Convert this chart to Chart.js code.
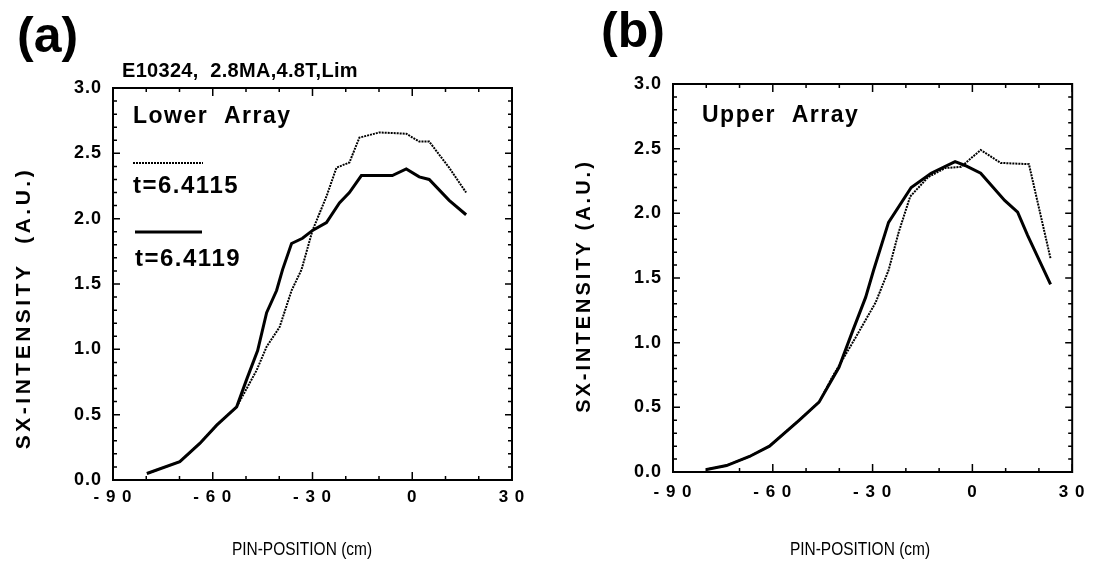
<!DOCTYPE html>
<html>
<head>
<meta charset="utf-8">
<script src="https://cdn.jsdelivr.net/npm/chart.js@4.4.1/dist/chart.umd.min.js"></script>
<style>
body { margin: 0; background: #fff; }
canvas { position: absolute; top: 0; }
#chartA { left: 0; }
#chartB { left: 547px; }
</style>
</head>
<body>
<canvas id="chartA" width="547" height="566"></canvas>
<canvas id="chartB" width="547" height="566"></canvas>
<script>
// (a) lower array, shot E10324
const aEarlyX = [-79.8, -69.9, -63.9, -58.8, -52.8, -46.8, -43.8, -39.9, -36.3, -33.3, -30, -25.8, -22.8, -18.9, -15.9, -9.9, -1.8, 2.1, 5.1, 11.1, 16.2];
const aEarlyY = [0.05, 0.14, 0.28, 0.42, 0.56, 0.84, 1.02, 1.17, 1.45, 1.61, 1.91, 2.17, 2.39, 2.43, 2.62, 2.66, 2.65, 2.59, 2.59, 2.39, 2.20];
const aLateX = [-79.8, -69.9, -63.9, -58.8, -52.8, -49.8, -46.5, -43.8, -40.8, -39, -36.3, -33, -30, -25.8, -21.9, -18.9, -15.3, -6, -1.8, 2.1, 5.1, 11.1, 16.2];
const aLateY = [0.05, 0.14, 0.28, 0.42, 0.56, 0.77, 0.99, 1.28, 1.45, 1.61, 1.81, 1.85, 1.91, 1.97, 2.12, 2.20, 2.33, 2.33, 2.38, 2.32, 2.30, 2.14, 2.03];

// (b) upper array
const bEarlyX = [-79.9, -73.9, -67, -61, -52.1, -46.1, -42.2, -35.1, -29.1, -25.2, -22.2, -18.7, -13.3, -8.2, -3.4, 2.5, 8.5, 17, 23.5];
const bEarlyY = [0.02, 0.05, 0.12, 0.20, 0.40, 0.54, 0.73, 1.04, 1.31, 1.56, 1.85, 2.13, 2.28, 2.35, 2.36, 2.49, 2.39, 2.38, 1.65];
const bLateX = [-79.9, -73.9, -67, -61, -52.1, -46.1, -40.1, -36.3, -32.1, -29.7, -25.2, -18.4, -12.4, -5.2, -2.2, 2.5, 9.7, 13.6, 16.6, 23.5];
const bLateY = [0.02, 0.05, 0.12, 0.20, 0.40, 0.54, 0.81, 1.07, 1.35, 1.56, 1.93, 2.20, 2.31, 2.40, 2.37, 2.31, 2.10, 2.01, 1.83, 1.45];

const seriesNames = ['t=6.4115', 't=6.4119'];
const xTicks = [-90, -60, -30, 0, 30];
const xTickLabels = ['- 9 0', '- 6 0', '- 3 0', '0', '3 0'];
const yTicks = [0, 0.5, 1, 1.5, 2, 2.5, 3];
const yTickLabels = ['0.0', '0.5', '1.0', '1.5', '2.0', '2.5', '3.0'];

const pts = (xs, ys) => xs.map((x, i) => ({x: x, y: ys[i]}));

// box + inward ticks on all four sides
const frameTicks = {
    id: 'frameTicks',
    afterDatasetsDraw(chart) {
        const {ctx, chartArea: a, scales: {x, y}} = chart;
        ctx.save();
        ctx.strokeStyle = '#000';
        ctx.lineWidth = 2;
        ctx.strokeRect(a.left, a.top, a.right - a.left, a.bottom - a.top);
        ctx.lineWidth = 1.5;
        ctx.beginPath();
        for (let v = -90; v <= 30; v += 10) {
            const px = x.getPixelForValue(v);
            const len = v % 30 === 0 ? 8 : 4;
            ctx.moveTo(px, a.bottom); ctx.lineTo(px, a.bottom - len);
            ctx.moveTo(px, a.top); ctx.lineTo(px, a.top + len);
        }
        for (let i = 0; i <= 30; i++) {
            const py = y.getPixelForValue(i / 10);
            const len = i % 5 === 0 ? 7 : 4;
            ctx.moveTo(a.left, py); ctx.lineTo(a.left + len, py);
            ctx.moveTo(a.right, py); ctx.lineTo(a.right - len, py);
        }
        ctx.stroke();
        ctx.restore();
    },
    beforeDraw(chart) {
        chart.ctx.letterSpacing = '1px';
    }
};

function notesPlugin(notes, legendAt) {
    return {
        id: 'notes',
        afterDraw(chart) {
            const ctx = chart.ctx;
            ctx.save();
            ctx.fillStyle = '#000';
            ctx.textBaseline = 'alphabetic';
            notes.forEach(n => {
                ctx.save();
                ctx.font = n.font;
                ctx.letterSpacing = (n.ls || 0) + 'px';
                ctx.translate(n.x, n.y);
                if (n.rot) ctx.rotate(n.rot);
                if (n.sx) ctx.scale(n.sx, 1);
                ctx.textAlign = n.align || 'left';
                ctx.fillText(n.text, 0, 0);
                ctx.restore();
            });
            if (legendAt) {
                chart.data.datasets.forEach((ds, i) => {
                    const L = legendAt[i];
                    ctx.save();
                    ctx.strokeStyle = ds.borderColor;
                    ctx.lineWidth = ds.borderWidth;
                    ctx.setLineDash(ds.borderDash || []);
                    ctx.beginPath();
                    ctx.moveTo(L.x0, L.y); ctx.lineTo(L.x1, L.y);
                    ctx.stroke();
                    ctx.font = 'bold 24px "Liberation Sans"';
                    ctx.letterSpacing = '1.5px';
                    ctx.fillText(ds.label, L.x0, L.ty);
                    ctx.restore();
                });
            }
            ctx.restore();
        }
    };
}

function makePanel(id, box, early, late, notes, legendAt) {
    return new Chart(document.getElementById(id), {
        type: 'line',
        data: {
            datasets: [
                {label: seriesNames[0], data: early, borderColor: '#000', borderWidth: 2, borderDash: [2, 1], pointRadius: 0, tension: 0},
                {label: seriesNames[1], data: late, borderColor: '#000', borderWidth: 3, pointRadius: 0, tension: 0}
            ]
        },
        options: {
            responsive: false,
            animation: false,
            layout: {padding: {left: 0, top: box.top, right: box.right, bottom: 0}},
            plugins: {legend: {display: false}, tooltip: {enabled: false}},
            scales: {
                x: {
                    type: 'linear', min: -90, max: 30,
                    grid: {display: false, drawTicks: false},
                    border: {display: false},
                    afterBuildTicks: s => { s.ticks = xTicks.map(v => ({value: v})); },
                    afterFit: s => { s.height = box.bottomH; },
                    ticks: {
                        padding: box.xPad, color: '#000', maxRotation: 0, autoSkip: false,
                        font: {family: 'Liberation Sans', weight: 'bold', size: 17},
                        callback: v => xTickLabels[xTicks.indexOf(v)]
                    }
                },
                y: {
                    type: 'linear', min: 0, max: 3,
                    grid: {display: false, drawTicks: false},
                    border: {display: false},
                    afterBuildTicks: s => { s.ticks = yTicks.map(v => ({value: v})); },
                    afterFit: s => { s.width = box.leftW; },
                    ticks: {
                        padding: 11, color: '#000',
                        font: {family: 'Liberation Sans', weight: 'bold', size: 18},
                        callback: v => yTickLabels[yTicks.indexOf(v)]
                    }
                }
            }
        },
        plugins: [frameTicks, notesPlugin(notes, legendAt)]
    });
}

const boldF = s => 'bold ' + s + 'px "Liberation Sans"';
const axisF = '18px "Liberation Sans"';

makePanel('chartA', {top: 88, right: 35, leftW: 113, bottomH: 86, xPad: 7},
    pts(aEarlyX, aEarlyY), pts(aLateX, aLateY),
    [
        {text: '(a)', x: 17, y: 52, font: boldF(50)},
        {text: 'E10324,  2.8MA,4.8T,Lim', x: 122, y: 77, font: boldF(20), ls: 0.3},
        {text: 'Lower  Array', x: 133, y: 123, font: boldF(23), ls: 1.5},
        {text: 'SX-INTENSITY  (A.U.)', x: 30, y: 308, font: boldF(21), ls: 3.5, rot: -Math.PI / 2, align: 'center'},
        {text: 'PIN-POSITION (cm)', x: 302, y: 555, font: axisF, align: 'center', sx: 0.86}
    ],
    [{x0: 133, x1: 203, y: 163, ty: 193}, {x0: 135, x1: 202, y: 232, ty: 266}]
);

makePanel('chartB', {top: 84, right: 19, leftW: 126, bottomH: 94, xPad: 10},
    pts(bEarlyX, bEarlyY), pts(bLateX, bLateY),
    [
        {text: '(b)', x: 54, y: 47, font: boldF(50)},
        {text: 'Upper  Array', x: 155, y: 122, font: boldF(23), ls: 1.5},
        {text: 'SX-INTENSITY (A.U.)', x: 43, y: 286, font: boldF(20), ls: 3, rot: -Math.PI / 2, align: 'center'},
        {text: 'PIN-POSITION (cm)', x: 313, y: 555, font: axisF, align: 'center', sx: 0.86}
    ],
    null
);
</script>
</body>
</html>
